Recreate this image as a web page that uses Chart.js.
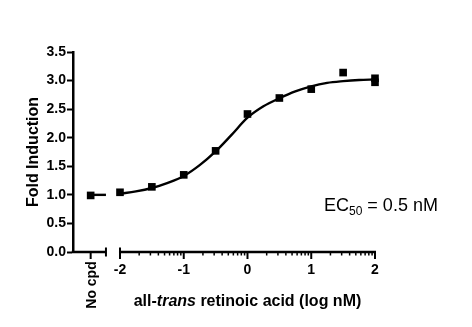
<!DOCTYPE html>
<html>
<head>
<meta charset="utf-8">
<script src="https://cdn.jsdelivr.net/npm/chart.js@4/dist/chart.umd.min.js"></script>
<style>
html,body{margin:0;padding:0;background:#fff;}
canvas{display:block;}
</style>
</head>
<body>
<canvas id="c" width="472" height="327"></canvas>
<script>
// ---- data ----
const xTickValues = [-2, -1, 0, 1, 2];
const noCpdLabel = 'No cpd';
const noCpdX = -2.46;
const noCpdValue = 0.99;
const doseLog = [-2, -1.5, -1, -0.5, 0, 0.5, 1, 1.5, 2, 2];
const foldInduction = [1.045, 1.14, 1.35, 1.77, 2.415, 2.695, 2.85, 3.14, 3.04, 2.97];
const fitLog = [-2, -1.75, -1.5, -1.25, -1, -0.75, -0.5, -0.25, 0, 0.25, 0.5, 0.75, 1, 1.25, 1.5, 1.75, 2];
const fitValue = [1.02, 1.06, 1.12, 1.21, 1.33, 1.52, 1.76, 2.05, 2.35, 2.55, 2.69, 2.81, 2.9, 2.96, 2.99, 3.01, 3.02];
const noCpdFitLog = [-2.46, -2.22];
const noCpdFitValue = [1.0, 1.0];
const yTickLabels = ['0.0', '0.5', '1.0', '1.5', '2.0', '2.5', '3.0', '3.5'];
const yTitle = 'Fold Induction';
const xTitleParts = [['all-', false], ['trans', true], [' retinoic acid (log nM)', false]];
const ec50Parts = ['EC', '50', ' = 0.5 nM'];

const FONT = '"Liberation Sans", Arial, sans-serif';
const xMin = -2.737, xMax = 2, breakEnd = -2.22;

const toXY = (xs, ys) => xs.map((v, i) => ({x: v, y: ys[i]}));

const axisPlugin = {
  id: 'axisDraw',
  afterDraw(chart) {
    const {ctx, scales: {x, y}} = chart;
    const y0 = y.getPixelForValue(0);
    ctx.save();
    ctx.strokeStyle = '#000';
    ctx.lineCap = 'butt';
    const line = (x1, y1, x2, y2, w) => {
      ctx.lineWidth = w;
      ctx.beginPath(); ctx.moveTo(x1, y1); ctx.lineTo(x2, y2); ctx.stroke();
    };
    const xl = x.left - 1.25;
    const xb = x.getPixelForValue(breakEnd);
    const xs = x.getPixelForValue(-2);
    const xe = x.getPixelForValue(2);
    // left piece of the broken axis
    line(xl, y0, xb, y0, 2.5);
    line(xb, y0 - 4.5, xb, y0 + 4.5, 2);
    // right piece
    line(xs - 1, y0, xe + 1, y0, 2.5);
    line(xs, y0 - 4.5, xs, y0 + 7, 2);
    xTickValues.slice(1).forEach(v => {
      const px = x.getPixelForValue(v);
      line(px, y0, px, y0 + 7, 2);
    });
    // minor log ticks
    for (let d = -2; d < 2; d++) {
      for (let k = 2; k <= 9; k++) {
        const px = x.getPixelForValue(d + Math.log10(k));
        line(px, y0, px, y0 + 3.5, 1.5);
      }
    }
    // No cpd tick
    const pn = x.getPixelForValue(noCpdX);
    line(pn, y0, pn, y0 + 7, 2);
    // No cpd label (rotated)
    ctx.fillStyle = '#000';
    ctx.font = 'bold 14px ' + FONT;
    ctx.save();
    ctx.translate(pn + 5, y0 + 33);
    ctx.rotate(-Math.PI / 2);
    ctx.textAlign = 'center';
    ctx.textBaseline = 'alphabetic';
    ctx.fillText(noCpdLabel, 0, 0);
    ctx.restore();
    // x title with italic part
    const fonts = xTitleParts.map(p => (p[1] ? 'italic bold 16px ' : 'bold 16px ') + FONT);
    const widths = xTitleParts.map((p, i) => { ctx.font = fonts[i]; return ctx.measureText(p[0]).width; });
    const total = widths.reduce((a, b) => a + b, 0);
    let cx = (xs + xe) / 2 - total / 2;
    ctx.textAlign = 'left';
    ctx.textBaseline = 'alphabetic';
    xTitleParts.forEach((p, i) => {
      ctx.font = fonts[i];
      ctx.fillText(p[0], cx, 306);
      cx += widths[i];
    });
    // EC50 annotation
    let ex = 324, ey = 211;
    ctx.font = '18px ' + FONT;
    ctx.fillText(ec50Parts[0], ex, ey);
    ex += ctx.measureText(ec50Parts[0]).width;
    ctx.font = '12px ' + FONT;
    ctx.fillText(ec50Parts[1], ex, ey + 4);
    ex += ctx.measureText(ec50Parts[1]).width;
    ctx.font = '18px ' + FONT;
    ctx.fillText(ec50Parts[2], ex, ey);
    ctx.restore();
  }
};

new Chart(document.getElementById('c'), {
  type: 'scatter',
  data: {
    datasets: [
      {
        label: 'fit',
        data: toXY(fitLog, fitValue),
        showLine: true,
        borderColor: '#000',
        borderWidth: 2.4,
        pointRadius: 0,
        cubicInterpolationMode: 'monotone',
        clip: false
      },
      {
        label: 'fit no cpd',
        data: toXY(noCpdFitLog, noCpdFitValue),
        showLine: true,
        borderColor: '#000',
        borderWidth: 2.4,
        pointRadius: 0,
        clip: false
      },
      {
        label: 'data',
        data: toXY(doseLog, foldInduction),
        pointStyle: 'rect',
        pointRadius: 5.4,
        backgroundColor: '#000',
        borderWidth: 0,
        clip: false
      },
      {
        label: 'no cpd',
        data: [{x: noCpdX, y: noCpdValue}],
        pointStyle: 'rect',
        pointRadius: 5.4,
        backgroundColor: '#000',
        borderWidth: 0,
        clip: false
      }
    ]
  },
  options: {
    responsive: false,
    devicePixelRatio: 1,
    animation: false,
    events: [],
    layout: {padding: {left: 0, right: 97, top: 52, bottom: 0}},
    plugins: {legend: {display: false}, tooltip: {enabled: false}},
    scales: {
      x: {
        type: 'linear',
        min: xMin,
        max: xMax,
        afterBuildTicks: s => { s.ticks = xTickValues.map(v => ({value: v})); },
        afterFit: s => { s.height = 75; },
        grid: {display: false, drawTicks: false},
        border: {display: false},
        ticks: {
          color: '#000',
          font: {family: FONT, size: 14, weight: 'bold'},
          padding: 10,
          maxRotation: 0,
          autoSkip: false,
          callback: v => String(v)
        }
      },
      y: {
        type: 'linear',
        min: 0,
        max: 3.5,
        afterBuildTicks: s => { s.ticks = yTickLabels.map(t => ({value: parseFloat(t)})); },
        afterFit: s => { s.width = 73; },
        grid: {drawOnChartArea: false, drawTicks: true, tickLength: 6, tickColor: '#000', tickWidth: 2},
        border: {display: true, color: '#000', width: 2.5},
        ticks: {
          color: '#000',
          font: {family: FONT, size: 14, weight: 'bold'},
          padding: 1,
          callback: (v, i) => yTickLabels[i]
        },
        title: {
          display: true,
          text: yTitle,
          color: '#000',
          font: {family: FONT, size: 16, weight: 'bold'},
          padding: {top: 24, bottom: 0}
        }
      }
    }
  },
  plugins: [axisPlugin]
});
</script>
</body>
</html>
